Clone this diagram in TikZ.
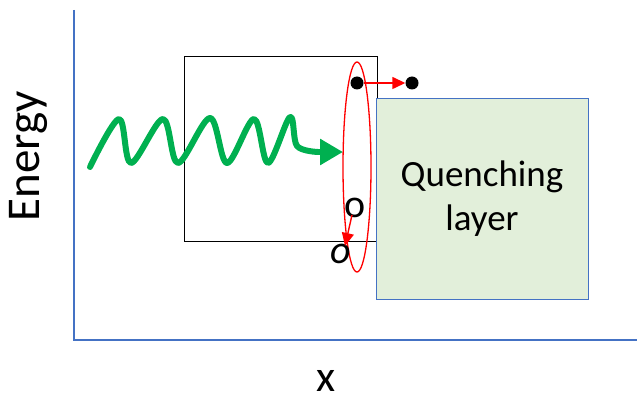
\documentclass[tikz,border=0pt]{standalone}
\usepackage{fontspec}
\setmainfont{Carlito}
\usetikzlibrary{arrows.meta,shapes.geometric}
\definecolor{axisblue}{RGB}{68,114,196}
\definecolor{wavegreen}{RGB}{0,176,80}
\definecolor{qfill}{RGB}{226,239,218}
\begin{document}
\begin{tikzpicture}[x=1pt,y=-1pt,
  axis/.style={draw=axisblue,line width=1.6pt},
  dot/.style={circle,fill=black,inner sep=0pt,minimum size=13pt},
  redarrow/.style={draw=red,line width=1.4pt,-{Triangle[length=13pt,width=12pt]}},
  lbl/.style={inner sep=0pt}]
\useasboundingbox (0,0) rectangle (637,406);
% axes
\coordinate (top) at (74,10);
\coordinate (origin) at (74,340);
\coordinate (right) at (637,340);
\draw[axis] (top) -- (origin) -- (right);
\node[lbl,rotate=90,font=\fontsize{47}{50}\selectfont] (energy) at (28,156) {Energy};
\node[lbl,font=\fontsize{44}{46}\selectfont] (xl) at (326,381) {x};
% black box
\node[draw=black,line width=1pt,minimum width=193pt,minimum height=184pt,inner sep=0pt] (box) at (280.5,149) {};
% quenching layer
\node[draw=axisblue,fill=qfill,line width=1pt,minimum width=212pt,minimum height=201pt,inner sep=0pt,align=center,font=\fontsize{37}{44}\selectfont] (quench) at (482,199) {Quenching\\layer};
% red ellipse
\node[ellipse,draw=red,line width=1.3pt,minimum width=28pt,minimum height=210pt,inner sep=0pt] (ell) at (357,167) {};
% dots
\node[dot] (d1) at (357,83) {};
\node[dot] (d2) at (412,83) {};
\draw[redarrow] (d1.east) -- (d2.west);
% o labels
\node[lbl,font=\fontsize{40}{42}\selectfont] (o1) at (355,208) {o};
\node[lbl,font=\fontsize{40}{42}\itshape\selectfont] (o2) at (341,254) {o};
\coordinate (o1s) at (352,215);
\coordinate (o2n) at (345,246);
\draw[redarrow] (o1s) -- (o2n);
% green wave
\coordinate (wstart) at (90,167);
\coordinate (wend) at (318,152);
\coordinate (wtip) at (343,152);
\draw[wavegreen,line width=6pt,line cap=round,line join=round] plot[smooth,tension=0.55] coordinates
 {(wstart) (119,119) (131,163) (163,119) (178,163) (210,118) (227,163) (254,119) (268,163) (290,117) (297,146) (wend)};
\draw[wavegreen,line width=6pt,-{Triangle[length=23pt,width=25pt]}] (wend) -- (wtip);
\end{tikzpicture}
\end{document}
